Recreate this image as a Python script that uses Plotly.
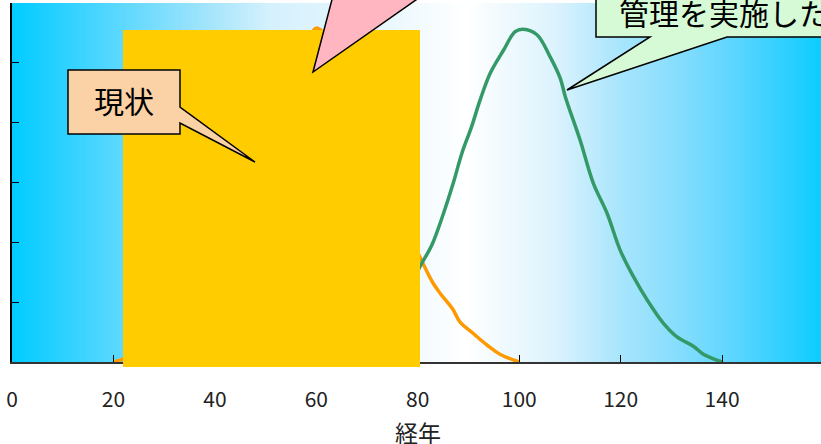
import numpy as np
import plotly.graph_objects as go

# ---- data ----
orange_x = [20, 25, 30, 35, 40, 45, 50, 55, 58, 60, 62, 65, 70, 75, 78,
            80.9, 83.0, 84.4, 87.0, 88.3, 90.9, 93.7, 96.2, 100]
orange_y = [0, 0.15, 0.45, 0.95, 1.6, 2.5, 3.5, 4.6, 5.3, 5.58, 5.45, 5.0, 3.9, 2.8, 2.2,
            1.67, 1.32, 1.15, 0.87, 0.67, 0.48, 0.28, 0.13, 0]

green_x = [76, 78.5, 80.8, 82.8, 85.1, 87.0, 88.7, 90.6, 92.3, 94.3, 96.9, 99.2, 100.8,
           103.5, 106.1, 108.1, 109.1, 112.0, 114.6, 117.3, 119.9, 122.5, 125.2, 128.4,
           131.1, 134.4, 136.3, 140]
green_y = [1.0, 1.3, 1.65, 1.96, 2.49, 2.99, 3.49, 3.93, 4.38, 4.83, 5.21, 5.52, 5.56,
           5.47, 5.10, 4.74, 4.43, 3.71, 2.99, 2.49, 1.87, 1.43, 1.04, 0.65,
           0.42, 0.26, 0.13, 0.0]

x_ticks = [0, 20, 40, 60, 80, 100, 120, 140]
x_title = "経年"
label_now = "現状"
label_managed = "管理を実施した"

# ---- geometry helpers (pixel -> paper) ----
W, H = 821, 444
L, R, T, B = 12, 0, 3, 82
PW, PH = W - L - R, H - T - B
XMAX = 159.5


def px(x):
    return (x - L) / PW


def py(y):
    return (H - B - y) / PH


def path(points):
    return "M " + " L ".join(f"{px(a):.5f},{py(b):.5f}" for a, b in points) + " Z"


FONT = "Noto Sans CJK JP"

# background gradient (pixel position -> colour)
grad_stops = [(12, "#00CCFF"), (100, "#4CD5FF"), (200, "#9DE3FC"), (270, "#D5F1FD"),
              (380, "#E8F7FE"), (465, "#FFFFFF"), (553, "#DDF3FD"), (620, "#A8E5FC"),
              (687, "#80DCFD"), (753, "#4CD3FF"), (821, "#0CCDFF")]
colorscale = [[(p - L) / PW, c] for p, c in grad_stops]
gx = np.linspace(0, XMAX, 400)

fig = go.Figure()
fig.add_trace(go.Heatmap(x=gx, y=[0, 6], z=[gx, gx], zmin=0, zmax=XMAX,
                         colorscale=colorscale, showscale=False, zsmooth="best",
                         hoverinfo="skip"))
fig.add_trace(go.Scatter(x=orange_x, y=orange_y, mode="lines",
                         line=dict(color="#FF9900", width=3.5, shape="spline"),
                         showlegend=False))
fig.add_trace(go.Scatter(x=green_x, y=green_y, mode="lines",
                         line=dict(color="#339966", width=3.5, shape="spline"),
                         showlegend=False))

shapes = []
# yellow block
shapes.append(dict(type="rect", xref="paper", yref="paper", layer="above",
                   x0=px(123), x1=px(420), y0=py(367), y1=py(30),
                   fillcolor="#FFCC00", line=dict(width=0)))
# pink callout (box off-canvas above)
shapes.append(dict(type="path", xref="paper", yref="paper", layer="above",
                   path=path([(313, 72), (335, -12), (300, -12), (300, -60), (470, -60),
                              (470, -12), (433, -12)]),
                   fillcolor="#FFB6C1", line=dict(color="black", width=1.5)))
# green callout
shapes.append(dict(type="path", xref="paper", yref="paper", layer="above",
                   path=path([(596, -30), (596, 37), (650, 37), (567, 90), (727, 37),
                              (900, 37), (900, -30)]),
                   fillcolor="#D6FAD6", line=dict(color="black", width=1.5)))
# "現状" callout
shapes.append(dict(type="path", xref="paper", yref="paper", layer="above",
                   path=path([(68, 70), (180, 70), (180, 107), (255, 162), (180, 123),
                              (180, 134), (68, 134)]),
                   fillcolor="#FBD2A6", line=dict(color="black", width=1.5)))

annotations = [
    dict(x=px(124), y=py(100), xref="paper", yref="paper", text=label_now,
         showarrow=False, xanchor="center", yanchor="middle",
         font=dict(family=FONT, size=30, color="black")),
    dict(x=px(617), y=py(12), xref="paper", yref="paper", text=label_managed,
         showarrow=False, xanchor="left", yanchor="middle",
         font=dict(family=FONT, size=30, color="black")),
    dict(x=px(418), y=py(432), xref="paper", yref="paper", text=x_title,
         showarrow=False, xanchor="center", yanchor="middle",
         font=dict(family=FONT, size=23, color="#222")),
]

fig.update_layout(
    width=W, height=H,
    margin=dict(l=L, r=R, t=T, b=B, pad=0, autoexpand=False),
    paper_bgcolor="white", plot_bgcolor="white",
    font=dict(family=FONT, color="#222"),
    shapes=shapes, annotations=annotations,
    showlegend=False,
    xaxis=dict(range=[0, XMAX], tickvals=x_ticks, ticktext=[str(v) for v in x_ticks],
               ticks="inside", ticklen=7, tickcolor="black", tickwidth=1.2,
               showline=True, linecolor="#333", linewidth=2,
               showgrid=False, zeroline=False, automargin=False,
               tickfont=dict(family=FONT, size=21, color="#222"),
               ticklabelstandoff=18),
    yaxis=dict(range=[0, 6], tickvals=[0, 1, 2, 3, 4, 5, 6], ticks="inside", ticklen=7,
               tickcolor="black", tickwidth=1.2, showticklabels=False,
               showline=True, linecolor="black", linewidth=1.5,
               showgrid=False, zeroline=False, automargin=False),
)

fig.write_html("out.html")
